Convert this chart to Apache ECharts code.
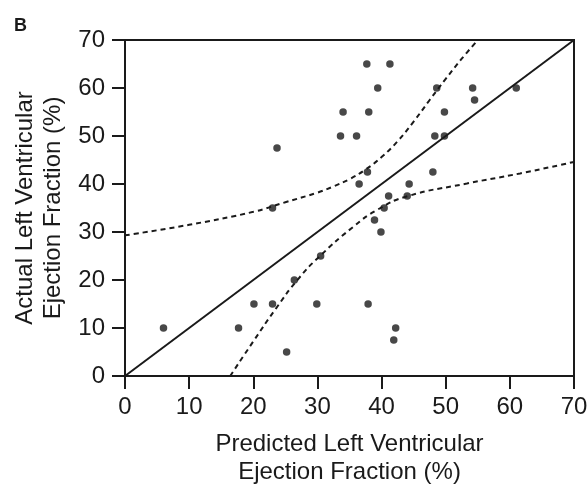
<!DOCTYPE html>
<html>
<head>
<meta charset="utf-8">
<script src="https://cdn.jsdelivr.net/npm/echarts@6/dist/echarts.min.js"></script>
<style>
  html, body { margin: 0; padding: 0; background: #fff; }
  #chart { width: 587px; height: 485px; }
</style>
</head>
<body>
<div id="chart"></div>
<script>
// predicted vs actual LVEF, one entry per patient
var predicted = [23.7, 37.7, 41.3, 39.4, 48.6, 54.2, 61.0, 54.5, 34.0, 38.0, 49.8, 33.6,
  36.1, 48.3, 49.8, 37.8, 48.0, 36.5, 44.3, 41.1, 44.0, 23.0, 40.4, 38.9, 39.9, 30.5,
  26.4, 20.1, 23.0, 29.9, 37.9, 6.0, 17.7, 42.2, 41.9, 25.2]
var actual = [47.5, 65, 65, 60, 60, 60, 60, 57.5, 55, 55, 55, 50,
  50, 50, 50, 42.5, 42.5, 40, 40, 37.5, 37.5, 35, 35, 32.5, 30, 25,
  20, 15, 15, 15, 15, 10, 10, 10, 7.5, 5]

// line of identity
var identityX = [0, 70]
var identityY = [0, 70]

// dashed confidence band
var upperX = [0, 10, 20, 25, 30, 32.5, 35, 37.5, 40, 42.5, 45, 47.5, 50, 52.5, 55]
var upperY = [29.3, 31.5, 34.2, 36.2, 38.2, 39.5, 41.0, 43.0, 45.6, 48.9, 53.0, 57.5, 61.9, 66.1, 70]
var lowerX = [16.4, 20, 23.5, 27, 30.4, 35.6, 39.3, 43.9, 53.3, 61.6, 70]
var lowerY = [0, 7.2, 14.0, 20.2, 25.0, 31.1, 34.6, 37.4, 40.1, 42.2, 44.6]

var axisTicks = [0, 10, 20, 30, 40, 50, 60, 70]

function pairs(xs, ys) {
  return xs.map(function(x, i) { return [x, ys[i]] })
}

var font = 'Liberation Sans, Arial, Helvetica, sans-serif'
var black = '#1a1a1a'

var chart = echarts.init(document.getElementById('chart'))

var axisCommon = {
  type: 'value',
  min: axisTicks[0],
  max: axisTicks[axisTicks.length - 1],
  interval: 10,
  nameLocation: 'middle',
  nameTextStyle: { fontFamily: font, fontSize: 24, color: black, lineHeight: 28 },
  axisLine: { show: true, lineStyle: { color: black, width: 2 } },
  axisTick: { show: true, inside: false, length: 13, lineStyle: { color: black, width: 2 } },
  axisLabel: { fontFamily: font, fontSize: 24, color: black },
  splitLine: { show: false }
}

chart.setOption({
  animation: false,
  title: {
    text: 'B',
    left: 9,
    top: 12,
    textStyle: { fontFamily: font, fontSize: 18, fontWeight: 'bold', color: black }
  },
  grid: {
    left: 125,
    right: 13,
    top: 40,
    bottom: 109,
    outerBoundsMode: 'none',
    containLabel: false,
    show: true,
    borderColor: black,
    borderWidth: 2,
    backgroundColor: 'transparent'
  },
  xAxis: Object.assign({}, axisCommon, {
    name: 'Predicted Left Ventricular\nEjection Fraction (%)',
    nameGap: 54,
    axisLabel: Object.assign({}, axisCommon.axisLabel, { margin: 19 })
  }),
  yAxis: Object.assign({}, axisCommon, {
    name: 'Actual Left Ventricular\nEjection Fraction (%)',
    nameGap: 57,
    axisLabel: Object.assign({}, axisCommon.axisLabel, { margin: 20 })
  }),
  series: [
    {
      type: 'line',
      data: pairs(identityX, identityY),
      showSymbol: false,
      lineStyle: { color: black, width: 2 },
      silent: true
    },
    {
      type: 'line',
      data: pairs(upperX, upperY),
      smooth: 0.4,
      showSymbol: false,
      lineStyle: { color: black, width: 2, type: [5, 4] },
      silent: true
    },
    {
      type: 'line',
      data: pairs(lowerX, lowerY),
      smooth: 0.5,
      showSymbol: false,
      lineStyle: { color: black, width: 2, type: [5, 4] },
      silent: true
    },
    {
      type: 'scatter',
      data: pairs(predicted, actual),
      symbolSize: 7.5,
      itemStyle: { color: black },
      z: 5
    }
  ]
})
</script>
</body>
</html>
